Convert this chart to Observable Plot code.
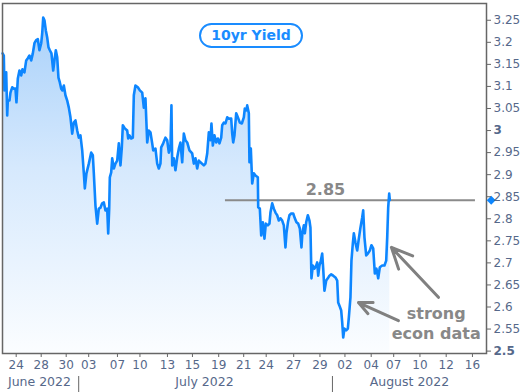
<!DOCTYPE html>
<html>
<head>
<meta charset="utf-8">
<script src="https://cdn.jsdelivr.net/npm/d3@7"></script>
<script src="https://cdn.jsdelivr.net/npm/@observablehq/plot@0.6"></script>
<style>
  html, body { margin: 0; padding: 0; background: #fff; }
  #wrap { position: relative; width: 525px; height: 392px; }
  #title {
    position: absolute; left: 199px; top: 23px; width: 100px; height: 21px;
    border: 2px solid #1a8cff; border-radius: 13px; background: #fff;
    color: #1a8cff; font: bold 14px "DejaVu Sans", Verdana, sans-serif;
    text-align: center; line-height: 21px;
  }
</style>
</head>
<body>
<div id="wrap"><div id="title">10yr Yield</div></div>
<script>
// x = trading-session position (0 = 24 June 2022), y = 10yr yield (%)
const sessions = [-1.09,-0.99,-0.94,-0.80,-0.72,-0.67,-0.54,-0.46,-0.32,-0.19,
-0.06,0.02,0.13,0.26,0.40,0.50,0.66,0.80,0.93,1.06,
1.20,1.33,1.46,1.60,1.73,1.86,2.00,2.08,2.16,2.26,
2.37,2.48,2.58,2.69,2.82,2.96,3.06,3.17,3.28,3.38,
3.49,3.60,3.70,3.81,3.94,4.08,4.21,4.34,4.48,4.61,
4.74,4.88,5.01,5.14,5.28,5.41,5.49,5.62,5.81,6.00,
6.13,6.21,6.34,6.48,6.61,6.74,6.88,7.01,7.14,7.28,
7.36,7.44,7.49,7.60,7.68,7.81,7.94,8.08,8.21,8.34,
8.45,8.53,8.69,8.88,8.96,9.06,9.20,9.33,9.41,9.54,
9.73,9.89,10.08,10.21,10.34,10.48,10.61,10.74,10.88,10.96,
11.14,11.28,11.41,11.54,11.60,11.76,11.94,12.08,12.21,12.34,
12.42,12.48,12.61,12.74,12.88,13.01,13.14,13.28,13.41,13.54,
13.68,13.86,14.08,14.21,14.34,14.48,14.61,14.74,15.01,15.14,
15.28,15.41,15.54,15.62,15.73,15.86,16.00,16.13,16.26,16.40,
16.48,16.61,16.74,16.88,17.01,17.20,17.28,17.36,17.46,17.60,
17.73,17.89,18.05,18.21,18.29,18.42,18.48,18.61,18.66,18.77,
18.88,19.01,19.14,19.33,19.36,19.49,19.60,19.73,19.86,19.97,
20.13,20.26,20.34,20.48,20.61,20.74,20.88,21.01,21.14,21.28,
21.41,21.54,21.62,21.74,21.86,22.00,22.16,22.29,22.42,22.56,
22.69,22.82,22.90,23.01,23.09,23.20,23.33,23.46,23.54,23.62,
23.73,23.86,24.00,24.08,24.16,24.26,24.34,24.48,24.56,24.66,
24.80,24.93,25.06,25.20,25.36,25.54,25.68,25.76,25.86,26.00,
26.08,26.16,26.26,26.40,26.53,26.61,26.74,26.82,26.93,27.01,
27.14,27.28,27.41,27.54,27.68,27.76,27.86,28.00,28.13,28.29,
28.42,28.56,28.69,28.82,28.96,29.09,29.28,29.46,29.60,29.68,
29.76,29.84,29.89];
const yields = [3.175,3.170,3.091,3.132,3.034,3.068,3.068,3.086,3.098,3.095,
3.095,3.064,3.118,3.136,3.125,3.139,3.132,3.159,3.164,3.170,
3.159,3.175,3.198,3.205,3.207,3.182,3.198,3.220,3.256,3.250,
3.227,3.211,3.189,3.182,3.175,3.136,3.159,3.182,3.166,3.120,
3.109,3.095,3.091,3.102,3.080,3.068,3.052,3.030,2.993,3.018,
3.023,3.000,2.984,2.989,2.955,2.903,2.869,2.903,2.925,2.950,
2.944,2.903,2.830,2.789,2.823,2.825,2.835,2.837,2.819,2.823,
2.767,2.823,2.894,2.905,2.937,2.914,2.925,2.932,2.971,2.921,
2.962,3.012,3.005,3.000,2.982,2.989,2.982,2.984,3.080,3.102,
3.098,3.091,3.086,3.052,3.073,2.973,3.000,2.996,2.971,2.955,
2.959,2.925,2.914,2.925,2.962,2.971,2.984,2.978,2.950,2.962,
3.057,2.921,2.937,2.910,2.939,2.959,2.973,2.928,2.993,2.978,
2.973,2.955,2.948,2.925,2.937,2.914,2.932,2.928,2.921,2.925,
2.948,2.996,2.978,3.016,2.966,2.989,2.973,2.982,2.971,2.984,
3.012,3.018,3.016,3.030,3.027,3.027,2.993,2.973,2.989,3.039,
3.030,3.018,3.016,3.030,3.050,3.046,3.057,3.039,2.928,2.959,
2.880,2.903,2.898,2.894,2.826,2.823,2.762,2.792,2.755,2.789,
2.785,2.789,2.814,2.835,2.823,2.814,2.808,2.796,2.801,2.796,
2.785,2.735,2.767,2.792,2.808,2.812,2.812,2.801,2.792,2.789,
2.778,2.735,2.769,2.785,2.767,2.792,2.808,2.796,2.780,2.665,
2.694,2.687,2.694,2.701,2.671,2.694,2.701,2.721,2.687,2.637,
2.660,2.665,2.671,2.674,2.671,2.667,2.660,2.610,2.603,2.592,
2.565,2.531,2.551,2.547,2.551,2.576,2.622,2.705,2.744,2.767,
2.746,2.728,2.755,2.780,2.803,2.819,2.758,2.717,2.721,2.728,
2.740,2.733,2.676,2.687,2.665,2.690,2.694,2.694,2.705,2.758,
2.826,2.857,2.842];

const xTickPos = [0, 2.0, 4.0, 5.8, 8.1, 9.9, 12.1, 14.1, 16.2, 18.2, 20.0, 22.2, 24.3, 26.3, 28.4, 30.2, 32.3, 34.4, 36.5];
const xTickLabels = ["24","28","30","03","07","10","13","15","19","21","24","27","29","02","04","07","10","12","16"];
const monthBoundaries = [5.0, 25.3];
const monthNames = ["June 2022", "July 2022", "August 2022"];
const monthLabelPos = [1.86, 15.06, 31.46];
const yTicksNormal = [3.25, 3.2, 3.15, 3.1, 3.05, 2.95, 2.9, 2.85, 2.8, 2.75, 2.7, 2.65, 2.6, 2.55];
const yTicksBold = [3];
const yTickMin = [2.5];
const xDomain = [-1.096, 37.624];
const yDomain = [2.4946, 3.288];
const lastYield = 2.842;
const lastLabel = "2.85";
const refLine = {x1: 16.74, x2: 36.74};
const lastLabelPos = {x: 24.74, y: 2.866};
const markerX = 38.0;
const arrows = [
  {x1: 30.58, y1: 2.569, x2: 27.38, y2: 2.610},
  {x1: 33.78, y1: 2.622, x2: 30.02, y2: 2.735}
];
const note = {x: 33.6, y: 2.565, text: "strong\necon data"};

const data = sessions.map((s, i) => ({s, v: yields[i]}));
const labelMap = new Map(xTickPos.map((p, i) => [p, xTickLabels[i]]));
const FONT = '"DejaVu Sans", Verdana, sans-serif';
const LABEL = "#56688a";

const defs = () => {
  const ns = "http://www.w3.org/2000/svg";
  const d = document.createElementNS(ns, "defs");
  d.innerHTML = `<linearGradient id="areaGrad" x1="0" y1="0" x2="0" y2="1">
    <stop offset="0" stop-color="#a9d1fa"/>
    <stop offset="0.45" stop-color="#d6e9fd"/>
    <stop offset="1" stop-color="#fbfdff"/>
  </linearGradient>`;
  return d;
};

const chart = Plot.plot({
  width: 525,
  height: 392,
  marginTop: 3,
  marginBottom: 39,
  marginLeft: 2,
  marginRight: 39,
  style: {fontFamily: FONT, background: "transparent"},
  x: {domain: xDomain, axis: null},
  y: {domain: yDomain, axis: null},
  marks: [
    defs,
    Plot.areaY(data, {x: "s", y1: yDomain[0], y2: "v", fill: "url(#areaGrad)"}),
    Plot.ruleY([lastYield], {x1: refLine.x1, x2: refLine.x2, stroke: "#8a8a8a", strokeWidth: 2}),
    Plot.lineY(data, {x: "s", y: "v", stroke: "#0d86ff", strokeWidth: 2.6}),
    Plot.frame({stroke: "#666", strokeWidth: 1.5}),
    Plot.text([lastLabel], {x: lastLabelPos.x, y: lastLabelPos.y, text: d => d, fontSize: 16, fontWeight: "bold", fill: "#888"}),
    Plot.arrow(arrows, {x1: "x1", y1: "y1", x2: "x2", y2: "y2", stroke: "#808080", strokeWidth: 3, headLength: 12, headAngle: 50}),
    Plot.text([note], {x: "x", y: "y", text: "text", fontSize: 16, fontWeight: "bold", fill: "#888", lineHeight: 1.25}),
    Plot.dot([lastYield], {x: markerX, y: d => d, symbol: "diamond2", r: 4, fill: "#0d86ff"}),
    // y axis on the right
    Plot.axisY({anchor: "right", ticks: yTicksNormal, tickFormat: d => String(d), tickSize: 4, tickPadding: 3, fontSize: 12, color: LABEL, stroke: "#666"}),
    Plot.axisY({anchor: "right", ticks: yTicksBold, tickFormat: d => String(d), tickSize: 4, tickPadding: 3, fontSize: 12, fontWeight: "bold", color: LABEL, stroke: "#666"}),
    Plot.axisY({anchor: "right", ticks: yTickMin, tickFormat: d => String(d), tickSize: 4, tickPadding: 3, fontSize: 12, fontWeight: "bold", color: LABEL, stroke: "#666", textAnchor: "start"}),
    // x axis
    Plot.axisX({ticks: xTickPos, tickFormat: d => labelMap.get(d), tickSize: 4, tickPadding: 3, fontSize: 12, color: LABEL, stroke: "#666"}),
    Plot.tickX(monthBoundaries, {x: d => d, stroke: "#666", insetTop: 350, dy: 4}),
    Plot.tickX(monthBoundaries, {x: d => d, stroke: "#666", insetTop: 334, dy: 39}),
    Plot.text(monthNames, {x: (d, i) => monthLabelPos[i], frameAnchor: "bottom", dy: 32, text: d => d, fontSize: 12.5, fill: LABEL})
  ]
});
document.getElementById("wrap").prepend(chart);
</script>
</body>
</html>
